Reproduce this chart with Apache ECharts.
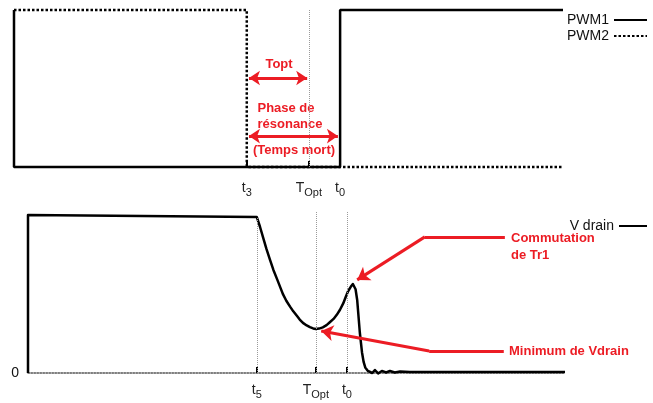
<!DOCTYPE html>
<html>
<head>
<meta charset="utf-8">
<script src="https://cdn.jsdelivr.net/npm/echarts@6/dist/echarts.min.js"></script>
<style>html,body{margin:0;padding:0;background:#fff}#c{width:653px;height:403px}</style>
</head>
<body>
<div id="c"></div>
<script>
// ---- data ----
const topTicks = [42.4, 53.7, 59.4];
const topTickLabels = ['t{s|3}', 'T{s|Opt}', 't{s|0}'];
const bottomTicks = [42.6, 53.6, 59.4];
const bottomTickLabels = ['t{s|5}', 'T{s|Opt}', 't{s|0}'];
const pwm1 = [[0, 1], [0, 0], [59.4, 0], [59.4, 1], [100, 1]];
const pwm2 = [[0, 1], [42.4, 1], [42.4, 0], [100, 0]];
const vdrain = [
  [0, 0], [0, 1], [42.6, 0.987], [43.2, 0.925], [43.8, 0.855], [44.4, 0.785], [45.1, 0.712],
  [45.7, 0.652], [46.4, 0.592], [47.0, 0.540], [47.5, 0.497], [48.1, 0.457], [48.8, 0.420],
  [49.4, 0.390], [50.1, 0.360], [50.6, 0.338], [51.2, 0.317], [51.9, 0.301], [52.5, 0.290],
  [53.1, 0.282], [53.6, 0.278], [54.2, 0.281], [54.9, 0.289], [55.6, 0.303], [56.2, 0.321],
  [56.9, 0.342], [57.5, 0.368], [58.1, 0.400], [58.7, 0.440], [59.2, 0.484], [59.6, 0.517],
  [60.1, 0.545], [60.5, 0.563], [60.75, 0.560], [61.0, 0.530], [61.3, 0.462], [61.8, 0.253],
  [62.2, 0.130], [62.5, 0.070], [62.8, 0.035], [63.3, 0.013], [64.1, 0.0], [64.6, 0.019],
  [65.2, -0.003], [65.9, 0.013], [66.7, 0.003], [67.4, 0.013], [68.3, 0.003],
  [69.3, 0.009], [71.1, 0.006], [100, 0.006]
];
const toptArrow = [[42.8, 0.567], [53.4, 0.567]];
const phaseArrow = [[42.8, 0.197], [59.0, 0.197]];
const commutationPath = [[61.3, 0.589], [73.9, 0.861], [88.8, 0.861]];
const minimumPath = [[54.6, 0.266], [74.7, 0.139], [88.6, 0.139]];
const annotationTexts = ['Topt', 'Phase de', 'résonance', '(Temps mort)', 'Commutation', 'de Tr1', 'Minimum de Vdrain'];

// ---- chart ----
const RED = '#ec1c24';
const FONT = '"Liberation Sans", Arial, sans-serif';
const chart = echarts.init(document.getElementById('c'), null, {renderer: 'canvas'});

function tickFormatter(ticks, labels) {
  return function (v) {
    const i = ticks.findIndex(t => Math.abs(t - v) < 1e-6);
    return i >= 0 ? labels[i] : '';
  };
}
const labelRich = {
  s: {fontSize: 11, fontFamily: FONT, color: '#222', padding: [9, 0, 0, 0]}
};
const dotGray = {type: 'dotted', color: '#9a9a9a', width: 1};
const redLine = {color: RED, width: 3, type: 'solid'};

function seg(a, b, startSym, endSym) {
  return [
    {coord: a, symbol: startSym, symbolSize: [12, 12], lineStyle: redLine},
    {coord: b, symbol: endSym, symbolSize: [12, 12]}
  ];
}
function vline(x, y1, y2) {
  return [{coord: [x, y1], symbol: 'none', lineStyle: dotGray}, {coord: [x, y2], symbol: 'none'}];
}

const option = {
  animation: false,
  grid: [
    {left: 14, right: 90, top: 10, height: 157},
    {left: 28, right: 88, top: 207, height: 166}
  ],
  xAxis: [
    {
      gridIndex: 0, type: 'value', min: 0, max: 100,
      axisLine: {show: false},
      splitLine: {show: false},
      axisTick: {show: true, inside: true, length: 6, customValues: topTicks,
        lineStyle: {color: '#000', width: 2}},
      axisLabel: {show: true, customValues: topTicks, margin: 11, fontSize: 14,
        fontFamily: FONT, color: '#222', formatter: tickFormatter(topTicks, topTickLabels), rich: labelRich}
    },
    {
      gridIndex: 1, type: 'value', min: 0, max: 100,
      axisLine: {show: true, onZero: false, lineStyle: {type: 'dotted', color: '#555', width: 1.5}},
      splitLine: {show: false},
      axisTick: {show: true, inside: true, length: 6, customValues: bottomTicks,
        lineStyle: {color: '#000', width: 2}},
      axisLabel: {show: true, customValues: bottomTicks, margin: 7, fontSize: 14,
        fontFamily: FONT, color: '#222', formatter: tickFormatter(bottomTicks, bottomTickLabels), rich: labelRich}
    }
  ],
  yAxis: [
    {gridIndex: 0, type: 'value', min: 0, max: 1, show: false, splitLine: {show: false}},
    {
      gridIndex: 1, type: 'value', min: 0, max: 1.05,
      axisLine: {show: false}, axisTick: {show: false}, splitLine: {show: false},
      axisLabel: {show: true, customValues: [0], margin: 9, fontSize: 14, fontFamily: FONT, color: '#111',
        formatter: v => (v === 0 ? '0' : '')}
    }
  ],
  legend: [
    {
      data: ['PWM1', 'PWM2'], orient: 'vertical', right: 0, top: 7, align: 'right',
      itemWidth: 33, itemHeight: 8, itemGap: 0,
      itemStyle: {opacity: 0},
      lineStyle: {width: 2},
      textStyle: {fontSize: 14, fontFamily: FONT, color: '#111', lineHeight: 16}
    },
    {
      data: ['V drain'], orient: 'vertical', right: 0, top: 213, align: 'right',
      itemWidth: 28, itemHeight: 8,
      itemStyle: {opacity: 0},
      lineStyle: {width: 2},
      textStyle: {fontSize: 14, fontFamily: FONT, color: '#111', lineHeight: 16}
    }
  ],
  series: [
    {
      name: 'PWM1', type: 'line', xAxisIndex: 0, yAxisIndex: 0, data: pwm1,
      symbol: 'none', clip: false, color: '#000',
      lineStyle: {color: '#000', width: 2.5},
      z: 3,
      markLine: {
        silent: true, animation: false, label: {show: false},
        data: [
          vline(topTicks[1], 0, 1),
          [
            {coord: toptArrow[0], symbol: 'arrow', symbolSize: [11, 11], lineStyle: redLine},
            {coord: toptArrow[1], symbol: 'arrow', symbolSize: [11, 11]}
          ],
          [
            {coord: phaseArrow[0], symbol: 'arrow', symbolSize: [11, 11], lineStyle: redLine},
            {coord: phaseArrow[1], symbol: 'arrow', symbolSize: [11, 11]}
          ]
        ]
      }
    },
    {
      name: 'PWM2', type: 'line', xAxisIndex: 0, yAxisIndex: 0, data: pwm2,
      symbol: 'none', clip: false, color: '#000',
      lineStyle: {color: '#000', width: 2.5, type: [2.5, 2]},
      z: 2
    },
    {
      name: 'V drain', type: 'line', xAxisIndex: 1, yAxisIndex: 1, data: vdrain,
      symbol: 'none', clip: false, color: '#000',
      lineStyle: {color: '#000', width: 2.5, join: 'round'},
      z: 3,
      markLine: {
        silent: true, animation: false, label: {show: false},
        data: [
          vline(bottomTicks[0], 0, 0.987),
          vline(bottomTicks[1], 0, 1.02),
          vline(bottomTicks[2], 0, 1.02),
          seg(commutationPath[0], commutationPath[1], 'arrow', 'none'),
          seg(commutationPath[1], commutationPath[2], 'none', 'none'),
          seg(minimumPath[0], minimumPath[1], 'arrow', 'none'),
          seg(minimumPath[1], minimumPath[2], 'none', 'none')
        ]
      }
    }
  ],
  graphic: [
    {type: 'text', x: 279, y: 64, style: {text: annotationTexts[0], align: 'center', verticalAlign: 'middle', fill: RED, font: 'bold 13px ' + FONT}},
    {type: 'text', x: 286, y: 108, style: {text: annotationTexts[1], align: 'center', verticalAlign: 'middle', fill: RED, font: 'bold 13px ' + FONT}},
    {type: 'text', x: 290, y: 124, style: {text: annotationTexts[2], align: 'center', verticalAlign: 'middle', fill: RED, font: 'bold 13px ' + FONT}},
    {type: 'text', x: 294, y: 150, style: {text: annotationTexts[3], align: 'center', verticalAlign: 'middle', fill: RED, font: 'bold 13px ' + FONT}},
    {type: 'text', x: 511, y: 238, style: {text: annotationTexts[4], align: 'left', verticalAlign: 'middle', fill: RED, font: 'bold 13px ' + FONT}},
    {type: 'text', x: 511, y: 255, style: {text: annotationTexts[5], align: 'left', verticalAlign: 'middle', fill: RED, font: 'bold 13px ' + FONT}},
    {type: 'text', x: 509, y: 351, style: {text: annotationTexts[6], align: 'left', verticalAlign: 'middle', fill: RED, font: 'bold 13px ' + FONT}}
  ]
};
chart.setOption(option);
</script>
</body>
</html>
